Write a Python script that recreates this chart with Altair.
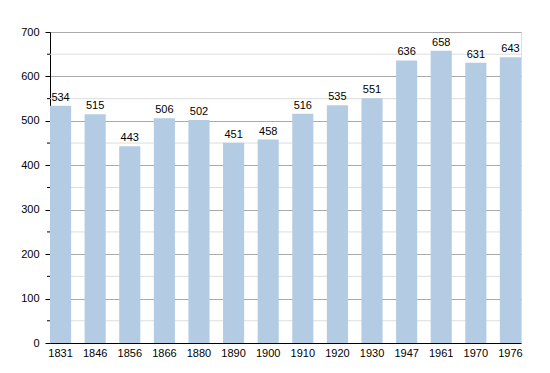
import altair as alt
import pandas as pd

years = ["1831", "1846", "1856", "1866", "1880", "1890", "1900", "1910", "1920", "1930", "1947", "1961", "1970", "1976"]
population = [534, 515, 443, 506, 502, 451, 458, 516, 535, 551, 636, 658, 631, 643]
major_ticks = [0, 100, 200, 300, 400, 500, 600, 700]
minor_ticks = [50, 150, 250, 350, 450, 550, 650]

df = pd.DataFrame({"year": years, "pop": population})
minor_df = pd.DataFrame({"v": minor_ticks})

FONT = "Liberation Sans"

yscale = alt.Scale(domain=[0, 700], nice=False)
xscale = alt.Scale(paddingInner=0.39, paddingOuter=0)

minor_grid = alt.Chart(minor_df).mark_rule(color="#dddddd", strokeWidth=1).encode(
    y=alt.Y("v:Q", scale=yscale)
)
minor_tick = alt.Chart(minor_df).mark_rule(color="#000000", strokeWidth=1).encode(
    y=alt.Y("v:Q", scale=yscale),
    x=alt.value(-3),
    x2=alt.value(0),
)

bars = alt.Chart(df).mark_bar(color="#b3cce4").encode(
    x=alt.X("year:N", sort=None, scale=xscale,
            axis=alt.Axis(title=None, labelAngle=0, ticks=False, domainColor="#000000",
                          labelFont=FONT, labelFontSize=11, labelColor="#000000",
                          labelPadding=4, grid=False)),
    y=alt.Y("pop:Q", scale=yscale,
            axis=alt.Axis(title=None, values=major_ticks, grid=True, gridColor="#aaaaaa",
                          domainColor="#000000", tickColor="#000000", tickSize=5,
                          labelFont=FONT, labelFontSize=11, labelColor="#000000",
                          labelPadding=6)),
)

labels = alt.Chart(df).mark_text(baseline="bottom", dy=-3, font=FONT, fontSize=11, color="#000000").encode(
    x=alt.X("year:N", sort=None, scale=xscale),
    y=alt.Y("pop:Q", scale=yscale),
    text="pop:Q",
)

chart = alt.layer(minor_grid, bars, minor_tick, labels).properties(
    width=471, height=311,
    autosize=alt.AutoSizeParams(type="none"),
    padding={"left": 42, "top": 24, "right": 12, "bottom": 22},
).configure_view(stroke=None).configure(background="white")

chart.save("out.html", embed_options={"renderer": "svg", "actions": False})
